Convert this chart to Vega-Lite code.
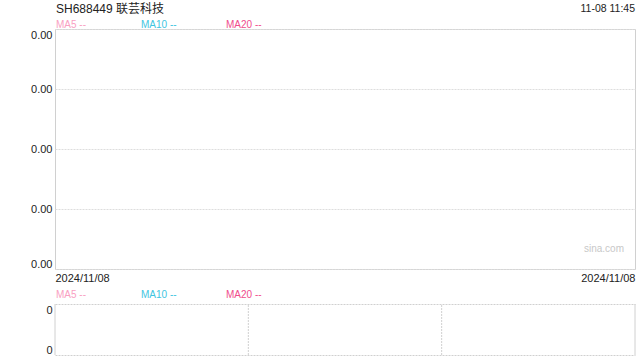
{
  "$schema": "https://vega.github.io/schema/vega-lite/v6.json",
  "padding": {"left": 30, "top": 0, "right": 6, "bottom": 5},
  "background": "white",
  "config": {"font": "Liberation Sans, Noto Sans CJK SC, sans-serif", "view": {"stroke": null}},
  "spacing": 0,
  "bounds": "flush",
  "vconcat": [
    {
      "width": 580,
      "height": 16,
      "layer": [
        {
          "data": {"values": [{"label": "SH688449 联芸科技"}]},
          "mark": {"type": "text", "align": "left", "baseline": "middle", "fontSize": 12, "color": "#222222", "dx": 1, "dy": 0.5},
          "encoding": {
            "x": {"datum": 0, "type": "quantitative", "scale": {"domain": [0, 1], "nice": false}, "axis": null},
            "text": {"field": "label"}
          }
        },
        {
          "data": {"values": [{"label": "11-08 11:45"}]},
          "mark": {"type": "text", "align": "right", "baseline": "middle", "fontSize": 10.5, "color": "#222222", "dy": 1},
          "encoding": {
            "x": {"datum": 1, "type": "quantitative", "axis": null},
            "text": {"field": "label"}
          }
        }
      ]
    },
    {
      "width": 580,
      "height": 13,
      "data": {"values": [{"ma": "MA5 --"}, {"ma": "MA10 --"}, {"ma": "MA20 --"}]},
      "mark": {"type": "text", "align": "left", "baseline": "middle", "fontSize": 10, "dx": 1, "dy": 2},
      "encoding": {
        "x": {"field": "ma", "type": "nominal", "scale": {"type": "point", "domain": ["MA5 --", "MA10 --", "MA20 --"], "range": [0, 170], "padding": 0}, "axis": null},
        "color": {"field": "ma", "type": "nominal", "scale": {"domain": ["MA5 --", "MA10 --", "MA20 --"], "range": ["#f9a0c2", "#3ec5df", "#f04d8c"]}, "legend": null},
        "text": {"field": "ma"}
      }
    },
    {
      "width": 580,
      "height": 240,
      "view": {"stroke": "#d0d0d0"},
      "data": {"values": [{"label": "sina.com"}]},
      "mark": {"type": "text", "align": "right", "baseline": "middle", "fontSize": 10, "color": "#c8c8c8", "dx": -11},
      "encoding": {
        "x": {"datum": 1, "type": "quantitative", "scale": {"domain": [0, 1], "nice": false},
          "axis": {"values": [0, 1], "labelExpr": "'2024/11/08'", "labelFlush": true, "ticks": false, "domain": false, "grid": false, "labelPadding": 3, "labelFontSize": 11, "labelColor": "#222222", "title": null}},
        "y": {"datum": 0.33, "type": "quantitative", "scale": {"domain": [0, 4], "nice": false, "zero": false},
          "axis": {"values": [0, 1, 2, 3, 4], "labelExpr": "'0.00'", "labelFlush": true, "ticks": false, "domain": false, "grid": true, "gridColor": "#dddddd", "gridDash": [2, 1], "labelPadding": 3, "labelFontSize": 11, "labelColor": "#222222", "title": null}},
        "text": {"field": "label"}
      }
    },
    {
      "width": 580,
      "height": 35,
      "data": {"values": [{"ma": "MA5 --"}, {"ma": "MA10 --"}, {"ma": "MA20 --"}]},
      "mark": {"type": "text", "align": "left", "baseline": "middle", "fontSize": 10, "dx": 1, "dy": 8},
      "encoding": {
        "x": {"field": "ma", "type": "nominal", "scale": {"type": "point", "domain": ["MA5 --", "MA10 --", "MA20 --"], "range": [0, 170], "padding": 0}, "axis": null},
        "color": {"field": "ma", "type": "nominal", "scale": {"domain": ["MA5 --", "MA10 --", "MA20 --"], "range": ["#f9a0c2", "#3ec5df", "#f04d8c"]}, "legend": null},
        "text": {"field": "ma"}
      }
    },
    {
      "width": 580,
      "height": 51,
      "data": {"values": [{"div": 0, "kind": "edge"}, {"div": 1, "kind": "grid"}, {"div": 2, "kind": "grid"}, {"div": 3, "kind": "edge"}]},
      "mark": {"type": "rule", "color": "#d0d0d0"},
      "encoding": {
        "x": {"field": "div", "type": "quantitative", "scale": {"domain": [0, 3], "nice": false}, "axis": null},
        "y": {"datum": 0, "type": "quantitative", "scale": {"domain": [0, 1], "nice": false},
          "axis": {"values": [0, 1], "labelExpr": "'0'", "labelFlush": true, "ticks": false, "domain": false, "grid": true, "gridColor": "#d0d0d0", "gridDash": [2, 1], "labelPadding": 3, "labelFontSize": 11, "labelColor": "#222222", "title": null}},
        "y2": {"datum": 1},
        "strokeDash": {"field": "kind", "type": "nominal", "scale": {"domain": ["edge", "grid"], "range": [[1, 0], [2, 1]]}, "legend": null}
      }
    }
  ]
}
